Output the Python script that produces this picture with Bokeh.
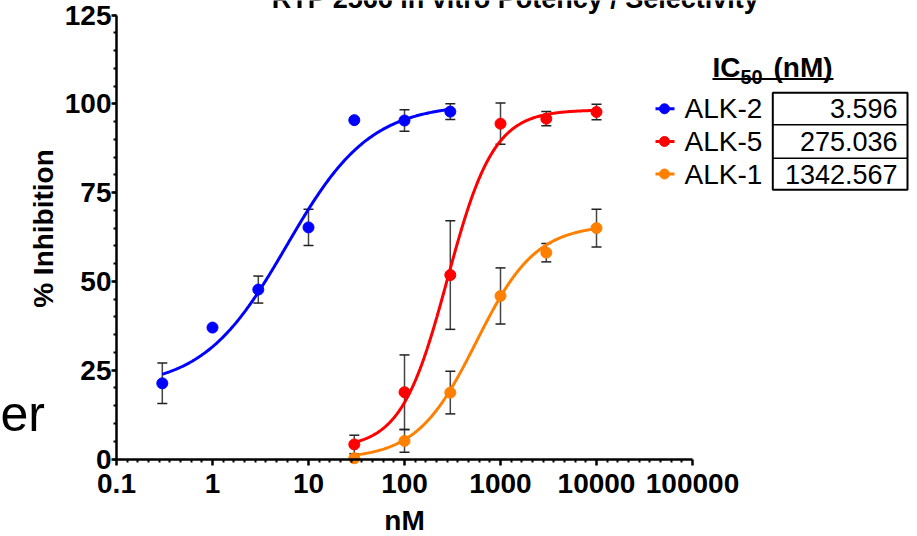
import numpy as np
from bokeh.plotting import figure
from bokeh.models import Range1d, FixedTicker, Label, Whisker, ColumnDataSource, TeeHead
from bokeh.embed import file_html
from bokeh.resources import INLINE

# ---------------- data ----------------
series_names = ["ALK-2", "ALK-5", "ALK-1"]
series_colors = ["#0000FF", "#FF0000", "#FF8000"]
ic50_labels = ["3.596", "275.036", "1342.567"]

alk2_x = [0.3, 1, 3, 10, 30, 100, 300]
alk2_y = [21.3, 37.0, 47.7, 65.2, 95.4, 95.3, 97.8]
alk2_err = [5.7, 0.0, 3.8, 5.1, 0.0, 3.0, 2.2]

alk5_x = [30, 100, 300, 1000, 3000, 10000]
alk5_y = [4.1, 18.8, 51.8, 94.4, 95.8, 97.7]
alk5_err = [2.6, 10.5, 15.3, 5.8, 2.0, 2.2]

alk1_x = [30, 100, 300, 1000, 3000, 10000]
alk1_y = [0.2, 5.1, 18.7, 45.9, 58.1, 65.0]
alk1_err = [0.0, 3.2, 6.0, 7.9, 2.6, 5.3]

# four-parameter logistic fit parameters (bottom, top, midpoint, hill)
alk2_fit = [20.0, 100.0, 5.9, 1.0]
alk5_fit = [3.0, 98.3, 280.0, 1.8]
alk1_fit = [0.0, 66.0, 560.0, 1.4]

x_tick_values = [0.1, 1, 10, 100, 1000, 10000, 100000]
x_tick_labels = ["0.1", "1", "10", "100", "1000", "10000", "100000"]
y_tick_values = [0, 25, 50, 75, 100, 125]

title_text = "RTP 2566 in vitro Potency / Selectivity"

# ---------------- layout helpers (canvas pixels -> data) ----------------
W, H = 917, 536
X0_PX = 116.0      # canvas x of 0.1
DEC_PX = 96.0      # pixels per decade
Y0_PX = 458.5      # canvas y of 0
TOP_PX = 14.5      # canvas y of 125
UNIT_PX = (Y0_PX - TOP_PX) / 125.0


def xd(px):
    return 10 ** (-1 + (px - X0_PX) / DEC_PX)


def yd(py):
    return (Y0_PX - py) / UNIT_PX


p = figure(width=W, height=H, x_axis_type="log",
           x_range=Range1d(xd(0), xd(W)), y_range=Range1d(yd(H), yd(0)),
           output_backend="svg", toolbar_location=None,
           min_border_left=0, min_border_right=0,
           min_border_top=0, min_border_bottom=0)
p.grid.visible = False
p.outline_line_color = None
p.background_fill_color = "white"
p.border_fill_color = "white"

FONT = "Liberation Sans"

# axes (pinned at the data origin so the frame spans the whole canvas)
minor_x = [10 ** (k + j / 9.0) for k in range(-1, 5) for j in range(1, 9)]
p.xaxis.ticker = FixedTicker(ticks=x_tick_values, minor_ticks=minor_x)
p.xaxis.major_label_overrides = {v: s for v, s in zip(x_tick_values, x_tick_labels)}
p.xaxis.bounds = (0.1, 100000)
p.xaxis.fixed_location = 0
p.yaxis.ticker = FixedTicker(ticks=y_tick_values, minor_ticks=list(range(0, 126, 5)))
p.yaxis.bounds = (0, 125)
p.yaxis.fixed_location = 0.1

for ax in (p.xaxis, p.yaxis):
    ax.axis_line_width = 2.5
    ax.axis_line_color = "black"
    ax.major_tick_line_width = 2.5
    ax.minor_tick_line_width = 2
    ax.major_tick_line_color = "black"
    ax.minor_tick_line_color = "black"
    ax.major_tick_in = 0
    ax.minor_tick_in = 0
    ax.major_label_text_font = FONT
    ax.major_label_text_font_style = "bold"
    ax.major_label_text_font_size = "28px"
    ax.major_label_text_color = "black"
p.xaxis.major_tick_out = 6
p.xaxis.minor_tick_out = 3
p.xaxis.major_label_standoff = 9
p.yaxis.major_tick_out = 5
p.yaxis.minor_tick_out = 3
p.yaxis.major_label_standoff = 0

# series
all_series = [
    (alk2_x, alk2_y, alk2_err, alk2_fit),
    (alk5_x, alk5_y, alk5_err, alk5_fit),
    (alk1_x, alk1_y, alk1_err, alk1_fit),
]

for (xs, ys, errs, fit), color in zip(all_series, series_colors):
    b, t, c, h = fit
    cx = np.logspace(np.log10(xs[0]), np.log10(xs[-1]), 300)
    cy = b + (t - b) / (1.0 + (c / cx) ** h)
    p.line(cx, cy, line_color=color, line_width=3)

    ex = [x for x, e in zip(xs, errs) if e > 0]
    eu = [y + e for y, e in zip(ys, errs) if e > 0]
    el = [y - e for y, e in zip(ys, errs) if e > 0]
    src = ColumnDataSource(dict(x=ex, upper=eu, lower=el))
    wh = Whisker(base="x", upper="upper", lower="lower", source=src, dimension="height",
                 line_color="#444444", line_width=1.5, level="underlay",
                 upper_head=TeeHead(size=10, line_color="#222222", line_width=1.5),
                 lower_head=TeeHead(size=10, line_color="#222222", line_width=1.5))
    p.add_layout(wh)
    p.scatter(xs, ys, size=11, fill_color=color, line_color=color, marker="circle")

# legend + IC50 table
row_y = [108.3, 141.0, 173.5]
for name, color, ic, ry in zip(series_names, series_colors, ic50_labels, row_y):
    p.segment(x0=[xd(655)], y0=[yd(ry)], x1=[xd(674)], y1=[yd(ry)], line_color=color, line_width=3)
    p.scatter([xd(664)], [yd(ry)], size=10, fill_color=color, line_color=color)
    p.add_layout(Label(x=xd(684), y=yd(ry), text=name, text_font=FONT, text_font_size="28px",
                       text_baseline="middle", text_align="left", text_color="black"))
    p.add_layout(Label(x=xd(897), y=yd(ry), text=ic, text_font=FONT, text_font_size="27px",
                       text_baseline="middle", text_align="right", text_color="black"))

p.quad(left=[xd(772.3)], right=[xd(907)], top=[yd(92.3)], bottom=[yd(189.3)],
       fill_color=None, line_color="black", line_width=2)
p.segment(x0=[xd(772.3), xd(772.3)], y0=[yd(124.3), yd(157.7)],
          x1=[xd(907), xd(907)], y1=[yd(124.3), yd(157.7)], line_color="black", line_width=1.5)

# heading IC50 (nM)
p.add_layout(Label(x=xd(712), y=yd(67), text="IC", text_font=FONT, text_font_size="28px",
                   text_font_style="bold", text_baseline="middle", text_color="black"))
p.add_layout(Label(x=xd(740), y=yd(76), text="50", text_font=FONT, text_font_size="20px",
                   text_font_style="bold", text_baseline="middle", text_color="black"))
p.add_layout(Label(x=xd(773), y=yd(67), text="(nM)", text_font=FONT, text_font_size="28px",
                   text_font_style="bold", text_baseline="middle", text_color="black"))
p.segment(x0=[xd(712)], y0=[yd(78.5)], x1=[xd(833)], y1=[yd(78.5)], line_color="black", line_width=2)

# axis titles
p.add_layout(Label(x=xd(43), y=yd(228), text="% Inhibition", text_font=FONT, text_font_size="28px",
                   text_font_style="bold", angle=np.pi / 2, text_align="center", text_baseline="middle",
                   text_color="black"))
p.add_layout(Label(x=xd(404), y=yd(520), text="nM", text_font=FONT, text_font_size="28px",
                   text_font_style="bold", text_align="center", text_baseline="middle", text_color="black"))

# cropped title at top and stray text at left
p.add_layout(Label(x=xd(515), y=yd(-1.5), text=title_text, text_font=FONT, text_font_size="27px",
                   text_font_style="bold", text_align="center", text_baseline="middle", text_color="black"))
p.add_layout(Label(x=xd(0), y=yd(413), text="er", text_font=FONT, text_font_size="50px",
                   text_align="left", text_baseline="middle", text_color="black"))

open("out.html", "w").write(file_html(p, INLINE))
